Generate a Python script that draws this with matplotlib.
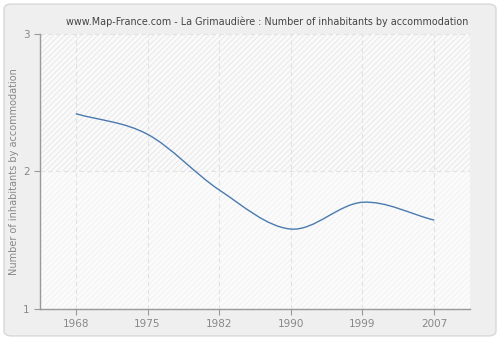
import matplotlib
matplotlib.use("Agg")
import matplotlib.pyplot as plt
from matplotlib.patches import FancyBboxPatch, PathPatch
from matplotlib.path import Path

years = ["1968", "1975", "1982", "1990", "1999", "2007"]
inhabitants = [2.42, 2.27, 1.865, 1.58, 1.775, 1.645]
y_ticks = [1, 2, 3]

TITLE = "www.Map-France.com - La Grimaudière : Number of inhabitants by accommodation"


def smooth_path(xs, ys):
    # cubic Bezier segments with Catmull-Rom style tangents
    n = len(xs)
    slopes = []
    for i in range(n):
        if i == 0:
            slopes.append((ys[1] - ys[0]) / (xs[1] - xs[0]))
        elif i == n - 1:
            slopes.append((ys[-1] - ys[-2]) / (xs[-1] - xs[-2]))
        else:
            slopes.append((ys[i + 1] - ys[i - 1]) / (xs[i + 1] - xs[i - 1]))
    verts = [(xs[0], ys[0])]
    codes = [Path.MOVETO]
    for i in range(n - 1):
        h = (xs[i + 1] - xs[i]) / 3.0
        verts += [(xs[i] + h, ys[i] + slopes[i] * h),
                  (xs[i + 1] - h, ys[i + 1] - slopes[i + 1] * h),
                  (xs[i + 1], ys[i + 1])]
        codes += [Path.CURVE4] * 3
    return PathPatch(Path(verts, codes), facecolor="none", edgecolor="#4a7ab0",
                     linewidth=1.0, zorder=3)


fig = plt.figure(figsize=(5, 3.4), dpi=100)
fig.patch.set_facecolor("white")
fig.patches.append(FancyBboxPatch((0.008, 0.012), 0.984, 0.976, boxstyle="round,pad=0,rounding_size=0.015",
                                  transform=fig.transFigure, facecolor="#efefef",
                                  edgecolor="#d8d8d8", linewidth=1.0, zorder=-10))

ax = fig.add_axes([0.08, 0.092, 0.86, 0.808])
ax.set_facecolor("#fafafa")
x = list(range(len(years)))
ax.set_xlim(-0.5, 5.5)
ax.set_ylim(1, 3)

plt.rcParams["hatch.linewidth"] = 0.6
ax.axhspan(2, 3, facecolor="#fafafa", hatch="//////", edgecolor="#e6e6e6", linewidth=0, zorder=0)
ax.axhspan(1, 2, facecolor="#fbfbfb", hatch="//////", edgecolor="#f1f1f1", linewidth=0, zorder=0)

ax.add_patch(smooth_path(x, inhabitants))

ax.set_xticks(x)
ax.set_xticklabels(years)
ax.set_yticks(y_ticks)
ax.grid(True, color="#e2e2e2", linestyle=(0, (4, 3)), linewidth=0.8, zorder=1)
ax.set_axisbelow(True)

for side in ("top", "right"):
    ax.spines[side].set_visible(False)
for side in ("left", "bottom"):
    ax.spines[side].set_color("#999999")
    ax.spines[side].set_linewidth(1.0)
ax.tick_params(colors="#999999", labelcolor="#888888", labelsize=7.5, length=4, width=0.8)

ax.set_ylabel("Number of inhabitants by accommodation", color="#888888", fontsize=7, labelpad=3)
fig.text(0.534, 0.935, TITLE, ha="center", va="center", fontsize=6.9, color="#444444")

fig.savefig("out.png", dpi=100, facecolor=fig.get_facecolor())
